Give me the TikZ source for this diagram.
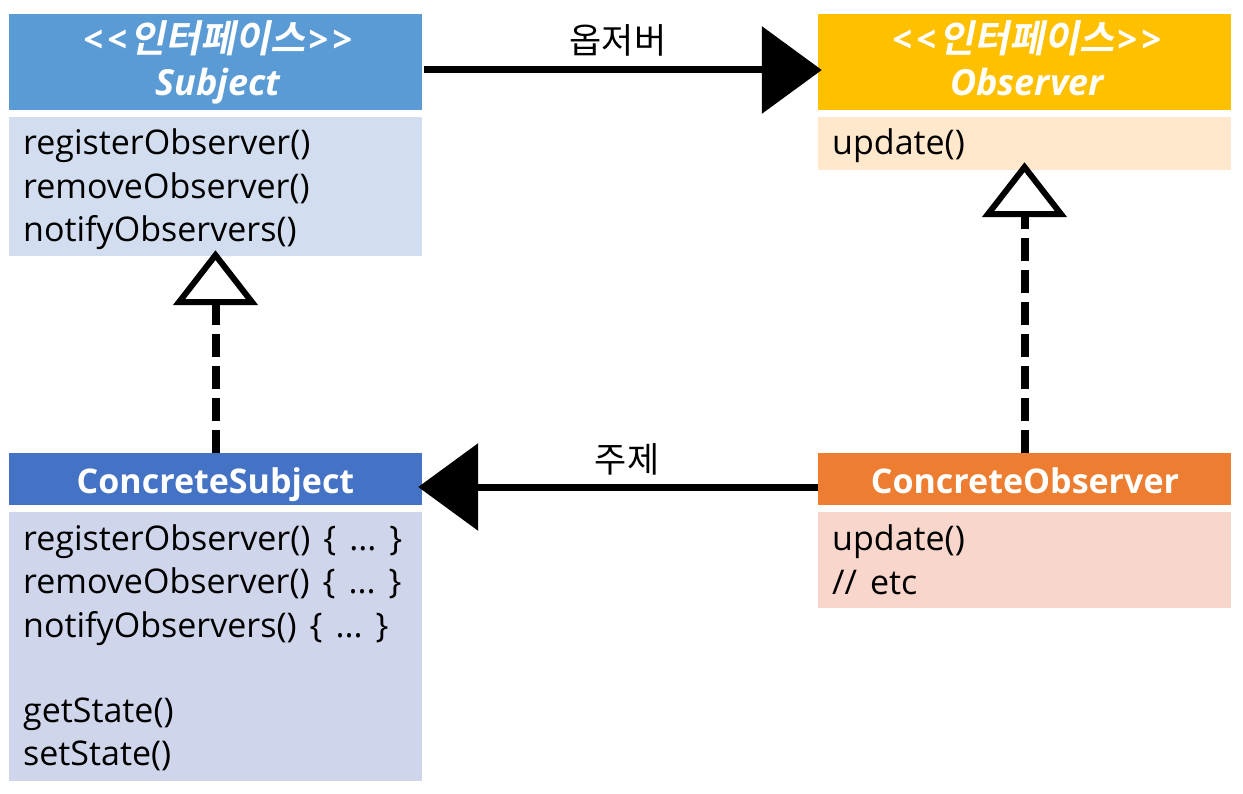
\documentclass[tikz,border=0pt]{standalone}
\usepackage{fontspec}
\setmainfont{Open Sans}
\newfontfamily\kr{Noto Sans CJK KR}[BoldFont={* Bold}, ItalicFont={*}, ItalicFeatures={FakeSlant=0.2}, BoldItalicFont={* Bold}, BoldItalicFeatures={FakeSlant=0.2}]
\usetikzlibrary{arrows.meta}
\definecolor{subjH}{HTML}{5B9BD5}
\definecolor{subjB}{HTML}{D2DEEF}
\definecolor{obsH}{HTML}{FFC000}
\definecolor{obsB}{HTML}{FFE8CC}
\definecolor{csH}{HTML}{4472C4}
\definecolor{csB}{HTML}{CFD5EA}
\definecolor{coH}{HTML}{ED7D31}
\definecolor{coB}{HTML}{F8D6CB}
\newcommand{\lt}{<\kern4pt<}
\newcommand{\gtt}{>\kern4pt>}
\newcommand{\ifc}{\lt\kern3pt{\kr\fontsize{38}{40}\selectfont 인터페이스}\kern3pt\gtt}
\newcommand{\bodydots}{\hspace{13pt}\{\hspace{13pt}...\hspace{13pt}\}}
\tikzset{
  box/.style={rectangle, draw=none, inner sep=0pt, minimum width=413pt},
  bodytxt/.style={anchor=base west, inner sep=0pt, font=\fontsize{34}{40}\selectfont, text=black},
  hdrtxt/.style={anchor=base, inner sep=0pt, text=white, font=\fontsize{36}{40}\selectfont\bfseries\itshape},
  cltxt/.style={anchor=base, inner sep=0pt, text=white, font=\fontsize{34}{40}\selectfont\bfseries},
  lbltxt/.style={anchor=base, inner sep=0pt, font=\fontsize{35}{40}\selectfont\kr},
  assoc/.style={line width=7pt, -{Triangle[length=60pt,width=86pt]}},
  realize/.style={line width=8pt, dash pattern=on 23pt off 9pt, -{Triangle[open,length=55pt,width=84pt,line width=6pt,fill=white]}}
}
\begin{document}
\begin{tikzpicture}[x=1pt,y=-1pt]
\useasboundingbox (0,0) rectangle (1243,794);
% boxes
\node[box, fill=subjH, minimum height=96pt] (sh) at (215.5,62) {};
\node[box, fill=subjB, minimum height=139pt] (sb) at (215.5,186.5) {};
\node[box, fill=obsH, minimum height=96pt] (oh) at (1024.5,62) {};
\node[box, fill=obsB, minimum height=53pt] (ob) at (1024.5,143.5) {};
\node[box, fill=csH, minimum height=52pt] (csh) at (215.5,479) {};
\node[box, fill=csB, minimum height=269pt] (csb) at (215.5,646.5) {};
\node[box, fill=coH, minimum height=52pt] (coh) at (1024.5,479) {};
\node[box, fill=coB, minimum height=96pt] (cob) at (1024.5,560) {};
% header texts
\node[hdrtxt] (sh1) at (218,53) {\ifc};
\node[hdrtxt] (sh2) at (218,96) {Subject};
\node[hdrtxt] (oh1) at (1027,53) {\ifc};
\node[hdrtxt] (oh2) at (1027,96) {Observer};
\node[cltxt] (csh1) at (215.5,493) {ConcreteSubject};
\node[cltxt] (coh1) at (1025,493) {ConcreteObserver};
% body texts
\node[bodytxt] (sb1) at (23,155) {registerObserver()};
\node[bodytxt] (sb2) at (23,198.5) {removeObserver()};
\node[bodytxt] (sb3) at (23,242) {notifyObservers()};
\node[bodytxt] (ob1) at (832,155) {update()};
\node[bodytxt] (csb1) at (23,550) {registerObserver()\bodydots};
\node[bodytxt] (csb2) at (23,593.5) {removeObserver()\bodydots};
\node[bodytxt] (csb3) at (23,637) {notifyObservers()\bodydots};
\node[bodytxt] (csb4) at (23,722) {getState()};
\node[bodytxt] (csb5) at (23,765.5) {setState()};
\node[bodytxt] (cob1) at (832,550) {update()};
\node[bodytxt] (cob2) at (832,594) {//\hspace{13pt}etc};
% connectors
\draw[assoc] ([xshift=2pt,yshift=-8pt]sh.east) -- ([xshift=4pt,yshift=-8pt]oh.west);
\draw[assoc] ([yshift=-8pt]coh.west) -- ([xshift=-4pt,yshift=-8pt]csh.east);
\node[lbltxt] (l1) at (618,54) {옵저버};
\node[lbltxt] (l2) at (627,472) {주제};
\draw[realize] (csh.north) -- ([yshift=6pt]sb.south);
\draw[realize] (coh.north) -- ([yshift=8pt]ob.south);
\end{tikzpicture}
\end{document}
